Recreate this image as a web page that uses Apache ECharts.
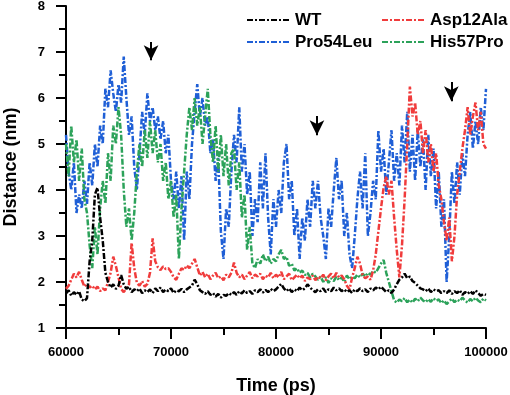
<!DOCTYPE html>
<html>
<head>
<meta charset="utf-8">
<script src="https://cdn.jsdelivr.net/npm/echarts@6/dist/echarts.min.js"></script>
<style>
  html, body { margin: 0; padding: 0; background: #fff; }
  #chart { width: 510px; height: 395px; }
</style>
</head>
<body>
<div id="chart"></div>
<script>
// sampling grid: every 250 ps from 60000 to 100000
const startTime = 60000;
const stepTime = 250;

// distances (nm)
const wt = [
  1.75, 1.82, 1.70, 1.78, 1.72, 1.80, 1.62, 1.58, 1.65, 2.45, 2.90, 3.90, 4.05, 3.40, 2.90, 2.20,
  2.00, 1.88, 1.95, 1.85, 1.92, 2.15, 1.95, 1.85, 1.90, 1.78, 1.84, 1.80, 1.86, 1.76, 1.82, 1.78,
  1.84, 1.76, 1.86, 1.80, 1.88, 1.78, 1.84, 1.80, 1.86, 1.76, 1.82, 1.80, 1.85, 1.78, 1.84, 1.88,
  1.92, 2.05, 1.95, 1.82, 1.78, 1.74, 1.80, 1.72, 1.76, 1.68, 1.74, 1.66, 1.72, 1.70, 1.76, 1.72,
  1.78, 1.72, 1.80, 1.75, 1.82, 1.76, 1.80, 1.74, 1.82, 1.78, 1.84, 1.77, 1.83, 1.78, 1.85, 1.80,
  1.84, 1.90, 1.96, 1.86, 1.80, 1.86, 1.78, 1.84, 1.80, 1.88, 1.82, 1.86, 1.95, 1.88, 1.82, 1.78,
  1.84, 1.80, 1.86, 1.78, 1.84, 1.80, 1.88, 1.82, 1.86, 1.80, 1.84, 1.78, 1.82, 1.76, 1.84, 1.80,
  1.86, 1.80, 1.84, 1.78, 1.86, 1.82, 1.88, 1.84, 1.90, 1.84, 1.78, 1.82, 1.76, 1.84, 1.95, 2.05,
  2.10, 2.18, 2.08, 2.12, 2.02, 1.98, 1.92, 1.86, 1.84, 1.80, 1.86, 1.78, 1.84, 1.80, 1.82, 1.76,
  1.80, 1.76, 1.82, 1.74, 1.80, 1.76, 1.82, 1.72, 1.78, 1.74, 1.80, 1.74, 1.82, 1.76, 1.70, 1.74,
  1.72
];
const asp12Ala = [
  1.85, 1.92, 2.05, 2.18, 2.10, 2.22, 2.05, 1.90, 1.96, 1.88, 1.92, 1.84, 1.90, 1.80, 1.86, 1.82,
  2.00, 2.20, 2.55, 2.35, 2.10, 1.85, 1.78, 1.86, 1.95, 2.85, 2.30, 1.98, 1.92, 2.02, 1.90, 1.96,
  2.20, 2.95, 2.45, 2.32, 2.26, 2.34, 2.28, 2.30, 2.22, 2.10, 2.05, 2.18, 2.30, 2.26, 2.36, 2.30,
  2.40, 2.50, 2.32, 2.14, 2.22, 2.10, 2.18, 2.06, 2.14, 2.20, 2.08, 2.12, 2.04, 2.16, 2.10, 2.20,
  2.42, 2.20, 2.10, 2.16, 2.06, 2.14, 2.22, 2.08, 2.16, 2.12, 2.18, 2.06, 2.14, 2.10, 2.20, 2.08,
  2.16, 2.10, 2.22, 2.06, 2.12, 2.18, 2.04, 2.10, 2.16, 2.08, 2.14, 2.02, 2.10, 2.06, 2.14, 2.04,
  2.12, 2.08, 2.16, 2.04, 2.12, 2.18, 2.08, 2.20, 2.10, 2.14, 2.06, 1.92, 1.84, 2.10, 2.30, 2.55,
  2.40, 2.15, 2.08, 2.12, 2.05, 2.25, 2.60, 3.10, 3.60, 4.05, 4.30, 3.90, 4.20, 3.40, 2.70, 2.10,
  2.80, 3.80, 5.00, 6.25, 5.60, 5.90, 5.20, 5.50, 4.80, 5.30, 4.60, 5.00, 4.40, 4.80, 4.10, 3.80,
  3.30, 2.90, 3.40, 2.45, 3.00, 3.90, 4.40, 4.90, 5.30, 5.80, 5.20, 5.60, 5.90, 5.30, 5.70, 5.00,
  4.90
];
const pro54Leu = [
  5.20, 4.40, 4.00, 4.60, 3.50, 3.90, 3.60, 4.20, 3.70, 4.60, 4.10, 5.00, 4.50, 5.40, 5.00, 6.20,
  5.80, 6.60, 6.10, 5.70, 6.30, 5.90, 6.90, 6.00, 5.20, 5.60, 4.50, 4.00, 4.80, 5.70, 5.20, 6.10,
  5.50, 5.80, 5.30, 5.60, 5.10, 5.50, 4.80, 5.20, 4.20, 3.80, 4.40, 3.60, 4.30, 2.90, 4.40, 3.80,
  5.00, 5.70, 6.30, 5.60, 6.00, 5.40, 5.60, 4.80, 5.10, 4.20, 4.70, 3.10, 2.50, 3.60, 3.20, 4.40,
  5.20, 4.60, 5.80, 4.40, 5.00, 3.90, 4.40, 3.00, 3.80, 3.30, 4.60, 3.60, 4.80, 3.40, 2.60, 3.80,
  3.20, 4.00, 3.50, 4.60, 5.00, 3.80, 4.20, 3.00, 3.60, 2.50, 3.40, 2.90, 3.80, 3.20, 4.20, 3.60,
  4.20, 3.40, 3.00, 2.50, 3.60, 3.20, 4.00, 4.70, 3.80, 4.20, 3.00, 3.50, 2.60, 2.30, 3.00, 3.80,
  4.40, 3.60, 4.80, 3.00, 3.50, 4.20, 3.80, 5.30, 4.40, 4.90, 3.90, 4.60, 5.30, 4.20, 4.80, 4.10,
  5.40, 4.60, 5.70, 4.40, 5.20, 4.20, 5.30, 4.50, 5.10, 4.00, 5.20, 4.30, 4.90, 3.60, 4.40, 3.20,
  3.80, 2.00, 3.00, 4.40, 3.70, 4.60, 3.90, 4.80, 4.30, 5.20, 5.70, 4.90, 5.50, 5.00, 5.80, 5.30,
  6.20
];
const his57Pro = [
  5.00, 4.30, 5.40, 4.60, 5.10, 4.20, 4.90, 3.80, 3.50, 2.80, 2.30, 3.20, 2.60, 3.60, 4.20, 3.70,
  4.80, 4.20, 5.40, 5.00, 5.80, 5.20, 4.00, 3.20, 3.60, 2.90, 3.50, 4.40, 5.00, 4.50, 5.30, 4.70,
  5.50, 4.80, 5.30, 4.60, 5.00, 4.20, 4.60, 3.80, 4.20, 3.40, 3.90, 2.50, 3.60, 4.40, 5.20, 5.80,
  5.30, 6.00, 5.40, 5.80, 5.00, 5.60, 6.20, 5.20, 4.60, 5.40, 4.40, 5.20, 4.30, 5.00, 4.10, 4.80,
  4.90, 4.00, 4.60, 3.40, 3.90, 2.70, 3.20, 2.40, 2.30, 2.50, 2.40, 2.60, 2.45, 2.55, 2.40, 2.50,
  2.45, 2.60, 2.70, 2.50, 2.55, 2.35, 2.40, 2.25, 2.30, 2.20, 2.25, 2.15, 2.20, 2.10, 2.18, 2.12,
  2.05, 2.12, 2.00, 2.10, 1.98, 2.08, 2.02, 2.12, 2.04, 2.10, 2.00, 2.14, 2.06, 2.12, 2.08, 2.16,
  2.10, 2.18, 2.12, 2.20, 2.16, 2.24, 2.20, 2.30, 2.40, 2.48, 2.20, 2.00, 1.80, 1.60, 1.55, 1.62,
  1.58, 1.65, 1.56, 1.62, 1.55, 1.64, 1.58, 1.66, 1.60, 1.56, 1.63, 1.57, 1.65, 1.59, 1.62, 1.54,
  1.60, 1.52, 1.58, 1.64, 1.56, 1.62, 1.58, 1.66, 1.60, 1.55, 1.63, 1.58, 1.66, 1.60, 1.56, 1.64,
  1.60
];

// arrows marking events
const arrowTime = [68100, 83900, 96700];
const arrowTop = [7.22, 5.61, 6.35];
const arrowTip = [6.82, 5.19, 5.93];

const xTicks = [60000, 70000, 80000, 90000, 100000];
const yTicks = [1, 2, 3, 4, 5, 6, 7, 8];

const font = 'Arial, "Liberation Sans", sans-serif';
const dashDot = [6, 2, 2, 2];

const toPairs = arr => arr.map((v, i) => [startTime + i * stepTime, v]);

const chart = echarts.init(document.getElementById('chart'));

const makeSeries = (name, values, color, z) => ({
    name: name,
    type: 'line',
    data: toPairs(values),
    symbol: 'none',
    z: z,
    lineStyle: { color: color, width: 2.5, type: dashDot },
    itemStyle: { color: color }
});

const wtSeries = makeSeries('WT', wt, '#000000', 5);
wtSeries.markLine = {
    silent: true,
    animation: false,
    label: { show: false },
    lineStyle: { color: '#000', width: 2, type: 'solid' },
    data: arrowTime.map((t, i) => [
        { coord: [t, arrowTop[i]], symbol: 'none' },
        { coord: [t, arrowTip[i]], symbol: 'arrow', symbolSize: [11, 15] }
    ])
};

const legendText = { fontFamily: font, fontWeight: 'bold', fontSize: 17, color: '#000', lineHeight: 20 };

const option = {
    animation: false,
    backgroundColor: '#fff',
    grid: { left: 66, right: 24, top: 6, bottom: 67, outerBoundsMode: 'none', containLabel: false },
    legend: [
        {
            orient: 'vertical',
            left: 241,
            top: 5,
            itemWidth: 43,
            itemHeight: 14,
            itemGap: 2,
            itemStyle: { opacity: 0 },
            lineStyle: { width: 2 },
            data: ['WT', 'Pro54Leu'],
            textStyle: legendText
        },
        {
            orient: 'vertical',
            left: 376,
            top: 5,
            itemWidth: 43,
            itemHeight: 14,
            itemGap: 2,
            itemStyle: { opacity: 0 },
            lineStyle: { width: 2 },
            data: ['Asp12Ala', 'His57Pro'],
            textStyle: legendText
        }
    ],
    xAxis: {
        type: 'value',
        min: xTicks[0],
        max: xTicks[xTicks.length - 1],
        interval: 10000,
        name: 'Time (ps)',
        nameLocation: 'middle',
        nameGap: 49,
        nameTextStyle: { fontFamily: font, fontWeight: 'bold', fontSize: 18, color: '#000' },
        splitLine: { show: false },
        axisLine: { lineStyle: { color: '#000', width: 2 } },
        axisTick: { length: 11, lineStyle: { width: 2 } },
        minorTick: { show: true, splitNumber: 2, length: 7, lineStyle: { color: '#000', width: 2 } },
        axisLabel: {
            fontFamily: font, fontWeight: 'bold', fontSize: 13, color: '#000', margin: 18,
            formatter: v => String(v)
        }
    },
    yAxis: {
        type: 'value',
        min: yTicks[0],
        max: yTicks[yTicks.length - 1],
        interval: 1,
        name: 'Distance (nm)',
        nameLocation: 'middle',
        nameGap: 46,
        nameTextStyle: { fontFamily: font, fontWeight: 'bold', fontSize: 18, color: '#000' },
        splitLine: { show: false },
        axisLine: { show: true, lineStyle: { color: '#000', width: 2 } },
        axisTick: { show: true, length: 10, lineStyle: { width: 2 } },
        minorTick: { show: true, splitNumber: 2, length: 7, lineStyle: { color: '#000', width: 2 } },
        axisLabel: { fontFamily: font, fontWeight: 'bold', fontSize: 13, color: '#000', margin: 21 }
    },
    series: [
        makeSeries('Pro54Leu', pro54Leu, '#1f5fd6', 2),
        makeSeries('His57Pro', his57Pro, '#2ca25a', 3),
        makeSeries('Asp12Ala', asp12Ala, '#f03c3c', 4),
        wtSeries
    ]
};

chart.setOption(option);
</script>
</body>
</html>
